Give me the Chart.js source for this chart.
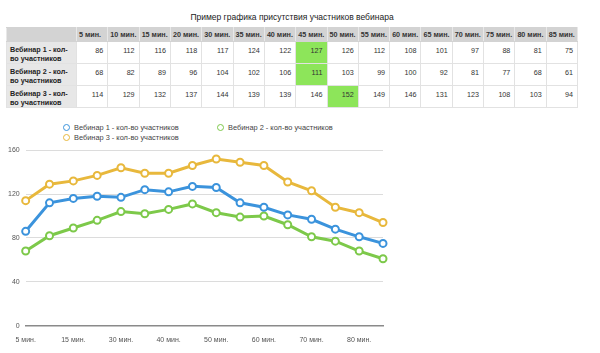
<!DOCTYPE html>
<html>
<head>
<meta charset="utf-8">
<script src="https://cdn.jsdelivr.net/npm/chart.js@4/dist/chart.umd.min.js"></script>
<style>
  body { margin:0; background:#fff; font-family:"Liberation Sans", Arial, sans-serif; width:600px; height:353px; overflow:hidden; position:relative; }
  #title { position:absolute; top:12px; left:0; width:584px; text-align:center; font-size:8.5px; color:#222; }
  table { position:absolute; top:27px; left:6px; border-collapse:collapse; table-layout:fixed; width:572px; }
  td, th { border:1px solid #e2e2e2; font-size:7.2px; color:#333; padding:0 4px 0 0; }
  th { background:#d3d3d3; height:13px; font-weight:bold; font-size:7.2px; text-align:left; padding-left:2px; white-space:nowrap; overflow:hidden; border-color:#d3d3d3 #e8e8e8; }
  td { height:21px; text-align:right; vertical-align:top; padding-top:4px; box-sizing:border-box; }
  td.name { background:#e7e7e7; text-align:left; font-weight:bold; font-size:7.2px; line-height:9px; padding:3px 0 0 3px; color:#222; }
  td.hl { background:#8de55a; }
  #legend { position:absolute; top:123px; left:63px; font-size:7.4px; color:#444; }
  .item { position:absolute; white-space:nowrap; }
  .dot { display:inline-block; width:5px; height:5px; border-radius:50%; border:1.5px solid; margin-right:4px; vertical-align:-1px; }
  #wrap { position:absolute; left:0; top:140px; width:400px; height:206px; }
</style>
</head>
<body>
<div id="title">Пример графика присутствия участников вебинара</div>
<table id="tbl"></table>
<div id="legend"></div>
<div id="wrap"><canvas id="chart"></canvas></div>
<script>
const categories = ["5 мин.","10 мин.","15 мин.","20 мин.","30 мин.","35 мин.","40 мин.","45 мин.","50 мин.","55 мин.","60 мин.","65 мин.","70 мин.","75 мин.","80 мин.","85 мин."];
const seriesNames = ["Вебинар 1 - кол-во участников","Вебинар 2 - кол-во участников","Вебинар 3 - кол-во участников"];
const webinar1 = [86,112,116,118,117,124,122,127,126,112,108,101,97,88,81,75];
const webinar2 = [68,82,89,96,104,102,106,111,103,99,100,92,81,77,68,61];
const webinar3 = [114,129,132,137,144,139,139,146,152,149,146,131,123,108,103,94];
const yTicks = [0,40,80,120,160];
const colors = ["#3b93dc","#7dc94a","#e8b83c"];
const series = [webinar1, webinar2, webinar3];

// table
const tbl = document.getElementById("tbl");
let html = '<colgroup><col style="width:70px">' + categories.map(() => '<col>').join('') + '</colgroup>';
html += '<tr><th></th>' + categories.map(c => '<th>' + c + '</th>').join('') + '</tr>';
series.forEach((s, i) => {
  const max = Math.max(...s);
  const nm = seriesNames[i].replace(' - кол-', ' - кол-<br>');
  html += '<tr><td class="name">' + nm + '</td>' +
    s.map(v => '<td' + (v === max ? ' class="hl"' : '') + '>' + v + '</td>').join('') + '</tr>';
});
tbl.innerHTML = html;

// legend
const pos = [[0,0],[154,0],[0,10]];
document.getElementById("legend").innerHTML = seriesNames.map((n, i) =>
  '<div class="item" style="left:' + pos[i][0] + 'px;top:' + pos[i][1] + 'px"><span class="dot" style="border-color:' + colors[i] + '"></span>' + n + '</div>'
).join('');

new Chart(document.getElementById("chart"), {
  type: 'line',
  data: {
    labels: categories,
    datasets: series.map((s, i) => ({
      label: seriesNames[i],
      data: s,
      borderColor: colors[i],
      backgroundColor: '#fff',
      borderWidth: 3,
      pointRadius: 3.5,
      pointBorderWidth: 2,
      pointBackgroundColor: '#fff',
      tension: 0
    }))
  },
  options: {
    responsive: true,
    maintainAspectRatio: false,
    animation: false,
    layout: { padding: { top: 4, right: 17, left: 2, bottom: 0 } },
    plugins: { legend: { display: false }, tooltip: { enabled: false } },
    scales: {
      x: {
        offset: false,
        grid: { display: false },
        border: { color: '#8a8a8a', width: 1.5 },
        ticks: {
          autoSkip: false, maxRotation: 0, padding: 2,
          color: '#555', font: { family: 'Liberation Sans', size: 7 },
          callback: (v, i) => i % 2 === 0 ? categories[i] : ''
        }
      },
      y: {
        min: 0, max: 160,
        afterBuildTicks: ax => { ax.ticks = yTicks.map(v => ({ value: v })); },
        grid: { color: '#dcdcdc', drawTicks: false },
        border: { display: false },
        ticks: { padding: 6, color: '#555', font: { family: 'Liberation Sans', size: 7 } }
      }
    }
  }
});
</script>
</body>
</html>
